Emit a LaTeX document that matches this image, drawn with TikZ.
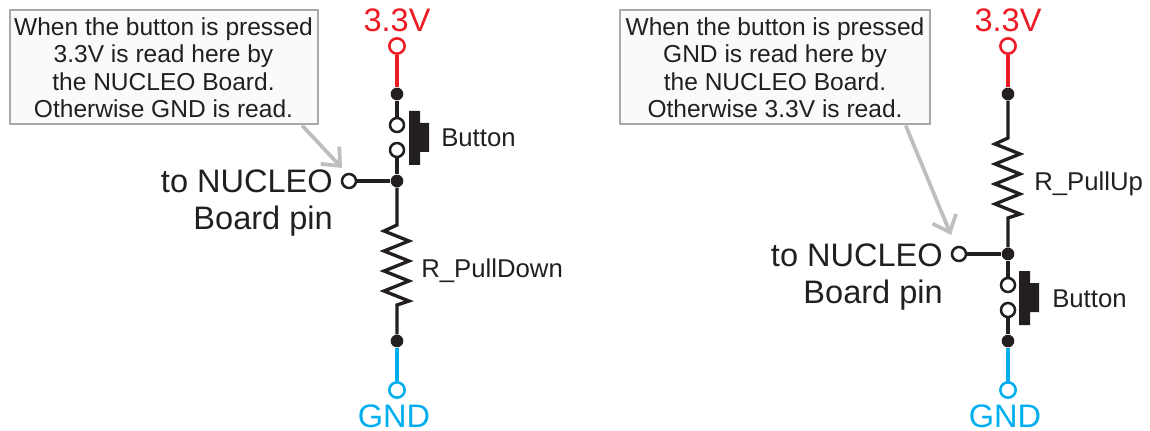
\documentclass[tikz,border=0pt]{standalone}
\usepackage{xcolor}
\usepackage{fontspec}
\setmainfont{Liberation Sans}
\usetikzlibrary{arrows.meta}

\definecolor{railred}{HTML}{ED1C24}
\definecolor{railblue}{HTML}{00AEEF}
\definecolor{inkblack}{HTML}{231F20}
\definecolor{notegray}{HTML}{A7A9AC}
\definecolor{pointergray}{HTML}{BCBEC0}

\tikzset{
    wire/.style={line width=2.5pt, color=inkblack},
    dotnode/.style={circle, fill=inkblack, inner sep=0pt, minimum size=9.5pt},
    pinnode/.style={circle, draw=inkblack, fill=white, line width=1.9pt, inner sep=0pt, minimum size=10.5pt},
    railpin/.style={pinnode, minimum size=11.5pt},
    bigtext/.style={inner sep=0pt, text=inkblack, font=\fontsize{24.4}{24}\selectfont},
    smalltext/.style={inner sep=0pt, text=inkblack, anchor=base west, font=\fontsize{19.3}{19}\selectfont},
    notebox/.style={draw=notegray, fill=black!2, line width=1.5pt, align=center, inner sep=0pt,
        text=inkblack, minimum height=85.5pt, font=\fontsize{18.4}{20.6}\selectfont},
    pointer/.style={draw=pointergray, line width=2.8pt, -{Straight Barb[length=11pt, width=19pt, line width=2.8pt]}},
    btnbody/.pic={
        \fill[inkblack] (0,0) -- (11,0) -- (11,12) -- (20,12) -- (20,41) -- (11,41) -- (11,54) -- (0,54) -- cycle;
    }
}
\newcommand{\zigpath}{-- ++(-13,6) -- ++(25,10) -- ++(-25,10) -- ++(25,10) -- ++(-25,10) -- ++(25,10) -- ++(-25,10) -- ++(25,10) -- ++(-12,4)}

\begin{document}
\begin{tikzpicture}[x=0.75pt, y=-0.75pt]
    \useasboundingbox (0, 0) rectangle (1150, 431);

    \node[bigtext, anchor=base, text=railred] (vccla) at (397, 32) {3.3V};
    \node[railpin, draw=railred] (vccl) at (397, 46) {};
    \node[dotnode] (topl) at (397, 94) {};
    \node[pinnode] (swal) at (397, 125) {};
    \node[pinnode] (swbl) at (397, 150) {};
    \node[dotnode] (midl) at (397, 181) {};
    \node[pinnode] (pinl) at (349, 181) {};
    \node[dotnode] (botl) at (397, 341) {};
    \node[railpin, draw=railblue] (gndl) at (397, 390) {};
    \node[bigtext, anchor=base, text=railblue] (gndla) at (394, 427) {GND};
    \coordinate (rpdtop) at (397, 225);
    \coordinate (rpdbot) at (397, 305);

    \draw[wire, color=railred] (vccl) -- (topl);
    \draw[wire] (topl) -- (swal);
    \draw[wire] (swbl) -- (midl);
    \draw[wire] (pinl) -- (midl);
    \draw[wire] (midl) -- (rpdtop) \zigpath -- (rpdbot) -- (botl);
    \draw[wire, color=railblue] (botl) -- (gndl);
    \pic at (409, 111) {btnbody};

    \node[smalltext] (btnl) at (441, 147) {Button};
    \node[smalltext] (rpd) at (421, 277) {R\_PullDown};
    \node[bigtext, anchor=base east] (tol) at (333, 193) {to NUCLEO};
    \node[bigtext, anchor=base east] (brdl) at (333, 229) {Board pin};

    \node[notebox, minimum width=231pt] (notel) at (163.5, 67.5) {When the button is pressed\\3.3V is read here by\\the NUCLEO Board.\\Otherwise GND is read.};
    \coordinate (tipl) at (342, 168);
    \draw[pointer] ([xshift=104pt]notel.south) -- (tipl);

    \node[bigtext, anchor=base, text=railred] (vccra) at (1008, 32) {3.3V};
    \node[railpin, draw=railred] (vccr) at (1008, 46) {};
    \node[dotnode] (topr) at (1008, 94) {};
    \node[dotnode] (midr) at (1008, 254) {};
    \node[pinnode] (pinr) at (959, 254) {};
    \node[pinnode] (swar) at (1008, 285) {};
    \node[pinnode] (swbr) at (1008, 310) {};
    \node[dotnode] (botr) at (1008, 341) {};
    \node[railpin, draw=railblue] (gndr) at (1008, 390) {};
    \node[bigtext, anchor=base, text=railblue] (gndra) at (1005, 427) {GND};
    \coordinate (rputop) at (1008, 138);
    \coordinate (rpubot) at (1008, 218);

    \draw[wire, color=railred] (vccr) -- (topr);
    \draw[wire] (topr) -- (rputop) \zigpath -- (rpubot) -- (midr);
    \draw[wire] (pinr) -- (midr);
    \draw[wire] (midr) -- (swar);
    \draw[wire] (swbr) -- (botr);
    \draw[wire, color=railblue] (botr) -- (gndr);
    \pic at (1019, 271) {btnbody};

    \node[smalltext] (btnr) at (1052, 307) {Button};
    \node[smalltext] (rpu) at (1034, 191) {R\_PullUp};
    \node[bigtext, anchor=base east] (tor) at (943, 267) {to NUCLEO};
    \node[bigtext, anchor=base east] (brdr) at (943, 303) {Board pin};

    \node[notebox, minimum width=232.5pt] (noter) at (775, 67.5) {When the button is pressed\\GND is read here by\\the NUCLEO Board.\\Otherwise 3.3V is read.};
    \coordinate (tipr) at (951, 235);
    \draw[pointer] ([xshift=98pt]noter.south) -- (tipr);
\end{tikzpicture}
\end{document}
